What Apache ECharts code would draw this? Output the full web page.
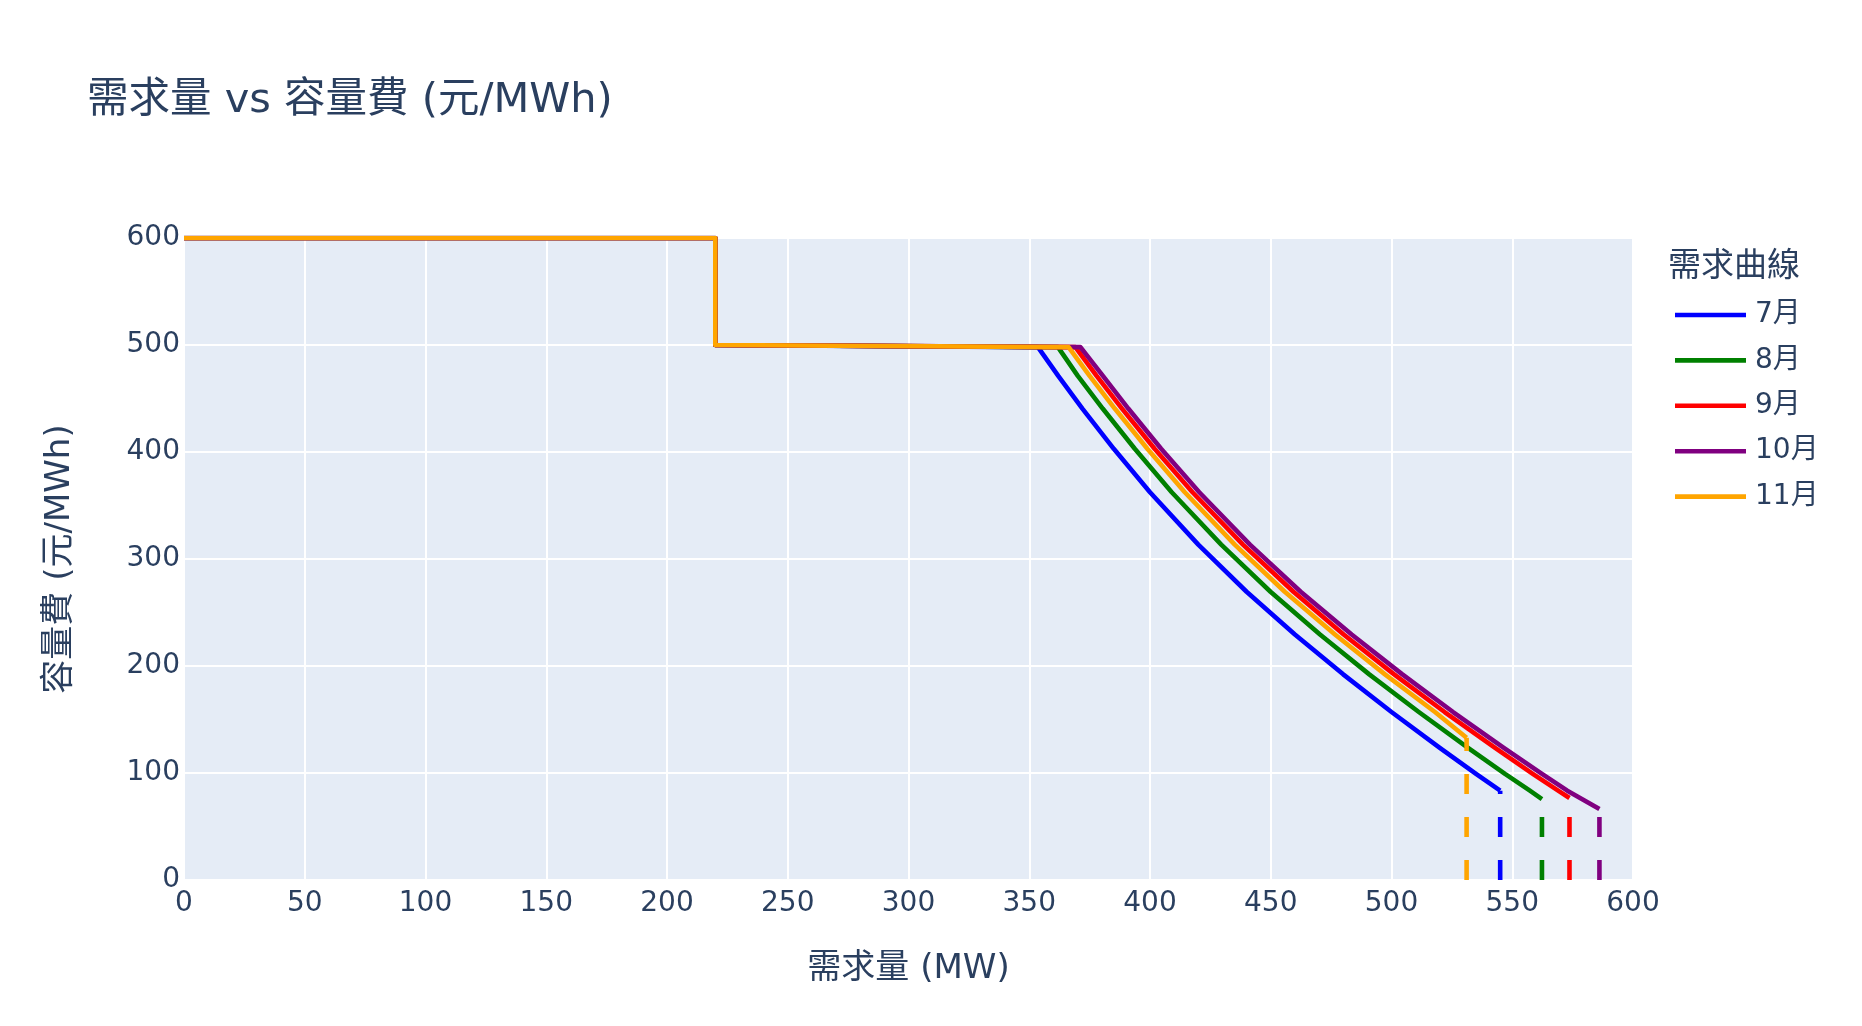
<!DOCTYPE html>
<html>
<head>
<meta charset="utf-8">
<script src="https://cdn.jsdelivr.net/npm/echarts@6/dist/echarts.min.js"></script>
<style>
html,body{margin:0;padding:0;background:#fff;}
#chart{width:1862px;height:1026px;}
</style>
</head>
<body>
<div id="chart"></div>
<script>
// ---- data ----
const months = ['7月', '8月', '9月', '10月', '11月'];
const xTicks = [0, 50, 100, 150, 200, 250, 300, 350, 400, 450, 500, 550, 600];
const yTicks = [0, 100, 200, 300, 400, 500, 600];

const curve7 = [[0,600],[220,600],[220,500],[353.6,498],[362,471.1],[372,440.6],[385,403],[400,362.4],[420,313.4],[440,269.4],[460,229.4],[480,192.2],[500,157],[520,123.4],[535,99.1],[545,83.5]];
const curve8 = [[0,600],[220,600],[220,500],[361.9,498],[370.1,471.1],[380.4,440.6],[393.7,403],[409,362.4],[429.5,313.4],[449.9,269.4],[470.4,229.4],[490.8,192.2],[511.3,157],[531.7,123.4],[547,99.1],[557.3,83.5],[562.3,75.6]];
const curve9 = [[0,600],[220,600],[220,500],[369.1,498],[377.9,471.1],[388.4,440.6],[401.9,403],[417.6,362.4],[438.5,313.4],[459.4,269.4],[480.2,229.4],[501.1,192.2],[522,157],[542.9,123.4],[558.5,99.1],[569,83.5],[573.7,76.6]];
const curve10 = [[0,600],[220,600],[220,500],[371.2,498],[380.5,471.1],[391,440.6],[404.6,403],[420.4,362.4],[441.4,313.4],[462.4,269.4],[483.5,229.4],[504.5,192.2],[525.5,157],[546.5,123.4],[562.3,99.1],[572.8,83.5],[586.1,66.3]];
const curve11 = [[0,600],[220,600],[220,500],[366.3,498],[375,471.1],[385.4,440.6],[398.9,403],[414.4,362.4],[435.1,313.4],[455.8,269.4],[476.6,229.4],[497.3,192.2],[518,157],[531.1,133]];

// ---- styling ----
const curves = [curve7, curve8, curve9, curve10, curve11];
const colors = ['#0000FF', '#008000', '#FF0000', '#800080', '#FFA500'];
const textColor = '#2a3f5f';
const fontFam = '"DejaVu Sans", "Noto Sans CJK TC", sans-serif';
const lw = 4.6;

const series = [];
curves.forEach((c, i) => {
  series.push({
    name: months[i], type: 'line', data: c, symbol: 'none', showSymbol: false,
    lineStyle: { color: colors[i], width: lw, join: 'round' }, itemStyle: { color: colors[i] },
    z: 3, silent: true
  });
});
curves.forEach((c, i) => {
  const last = c[c.length - 1];
  series.push({
    name: 'drop-' + months[i], type: 'line', data: [[last[0], 0], [last[0], last[1]]],
    symbol: 'none', showSymbol: false,
    lineStyle: { color: colors[i], width: lw, type: [20, 23] },
    z: 3, silent: true
  });
});

const chart = echarts.init(document.getElementById('chart'), null, { renderer: 'canvas' });
chart.setOption({
  animation: false,
  backgroundColor: '#ffffff',
  textStyle: { fontFamily: fontFam, color: textColor },
  title: [
    { text: '需求量 vs 容量費 (元/MWh)', left: 87, top: 80, padding: 0,
      textStyle: { fontFamily: fontFam, fontSize: 41.5, fontWeight: 'normal', color: textColor } },
    { text: '需求曲線', left: 1668, top: 251, padding: 0,
      textStyle: { fontFamily: fontFam, fontSize: 33, fontWeight: 'normal', color: textColor } }
  ],
  legend: {
    data: months.map((m, i) => ({ name: m, icon: 'rect', itemStyle: { color: colors[i], borderWidth: 0 } })),
    orient: 'vertical', left: 1675, top: 301, padding: 0,
    itemWidth: 71, itemHeight: lw, itemGap: 17.4,
    textStyle: { fontFamily: fontFam, fontSize: 28, color: textColor, padding: [0, 0, 0, 4], height: 28, lineHeight: 28 },
    selectedMode: false
  },
  grid: { left: 184, right: 229, top: 238, bottom: 146, show: true, backgroundColor: '#E5ECF6', borderWidth: 0 },
  xAxis: {
    type: 'value', min: xTicks[0], max: xTicks[xTicks.length - 1], interval: xTicks[1] - xTicks[0],
    name: '需求量 (MW)', nameLocation: 'middle', nameGap: 72,
    nameTextStyle: { fontFamily: fontFam, fontSize: 34, color: textColor },
    axisLine: { show: false }, axisTick: { show: false },
    axisLabel: { fontFamily: fontFam, fontSize: 28, color: textColor, margin: 10 },
    splitLine: { show: true, lineStyle: { color: '#ffffff', width: 2 } }
  },
  yAxis: {
    type: 'value', min: yTicks[0], max: yTicks[yTicks.length - 1], interval: yTicks[1] - yTicks[0],
    name: '容量費 (元/MWh)', nameLocation: 'middle', nameGap: 107, nameRotate: 90,
    nameTextStyle: { fontFamily: fontFam, fontSize: 34, color: textColor },
    axisLine: { show: false }, axisTick: { show: false },
    axisLabel: { fontFamily: fontFam, fontSize: 28, color: textColor, margin: 4 },
    splitLine: { show: true, lineStyle: { color: '#ffffff', width: 2 } }
  },
  series: series
});
</script>
</body>
</html>
